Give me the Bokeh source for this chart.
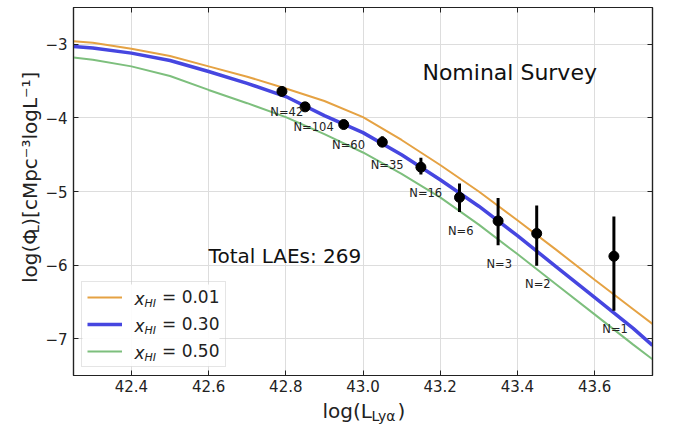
from math import pi
from bokeh.plotting import figure
from bokeh.layouts import column, row
from bokeh.models import (Range1d, LinearAxis, FixedTicker, Label, Legend, LegendItem,
                          ColumnDataSource, CustomJSTickFormatter, BoxAnnotation)
from bokeh.core.properties import value
from bokeh.embed import file_html
from bokeh.resources import INLINE

# ---------------- data ----------------
logL_model = [42.25, 42.3, 42.4, 42.5, 42.6, 42.7, 42.8, 42.9, 43.0,
              43.1, 43.2, 43.3, 43.4, 43.5, 43.6, 43.7, 43.75]
phi_xhi001 = [-2.96, -2.98, -3.06, -3.16, -3.30, -3.44, -3.60, -3.77, -3.99,
              -4.30, -4.64, -5.00, -5.39, -5.79, -6.20, -6.60, -6.80]
phi_xhi030 = [-3.03, -3.05, -3.12, -3.22, -3.37, -3.53, -3.71, -3.97, -4.20,
              -4.50, -4.84, -5.20, -5.60, -6.02, -6.44, -6.86, -7.09]
phi_xhi050 = [-3.18, -3.21, -3.30, -3.43, -3.62, -3.80, -3.99, -4.22, -4.47,
              -4.76, -5.08, -5.45, -5.85, -6.26, -6.67, -7.08, -7.28]
xhi_values = [0.01, 0.30, 0.50]

logL_obs = [42.79, 42.85, 42.95, 43.05, 43.15, 43.25, 43.35, 43.45, 43.65]
phi_obs = [-3.64, -3.85, -4.09, -4.33, -4.67, -5.08, -5.40, -5.57, -5.88]
err_lo = [0.03, 0.03, 0.03, 0.06, 0.10, 0.20, 0.33, 0.44, 0.74]
err_hi = [0.03, 0.03, 0.03, 0.08, 0.13, 0.19, 0.31, 0.38, 0.54]
n_obs = [42, 104, 60, 35, 16, 6, 3, 2, 1]

x_ticks = [42.4, 42.6, 42.8, 43.0, 43.2, 43.4, 43.6]
x_tick_labels = ["42.4", "42.6", "42.8", "43.0", "43.2", "43.4", "43.6"]
y_ticks = [-7, -6, -5, -4, -3]
y_tick_labels = ["\u22127", "\u22126", "\u22125", "\u22124", "\u22123"]

# ---------------- styles ----------------
FONT = "DejaVu Sans"
C_ORANGE = "#e5a243"
C_BLUE = "#4646e0"
C_GREEN = "#7dbf7d"
INK = "#222222"

LOOKUP = """
let best = 0;
for (let i = 0; i < tvals.length; i++) {
  if (Math.abs(tvals[i] - tick) < Math.abs(tvals[best] - tick)) { best = i; }
}
return tlabels[best];
"""

MAIN_H = 398
YLAB_W = 42
p = figure(width=673 - YLAB_W, height=MAIN_H, output_backend="svg", toolbar_location=None,
           x_range=Range1d(42.25, 43.75), y_range=Range1d(-7.5, -2.5),
           min_border_left=73 - YLAB_W, min_border_right=21, min_border_top=7,
           min_border_bottom=23)
p.outline_line_color = INK
p.outline_line_width = 1.2
p.background_fill_color = "white"
p.border_fill_color = "white"

bottom = p.below[0]
left = p.left[0]
top = LinearAxis()
right = LinearAxis()
p.add_layout(top, "above")
p.add_layout(right, "right")

for ax in [bottom, top]:
    ax.ticker = FixedTicker(ticks=x_ticks)
for ax in [left, right]:
    ax.ticker = FixedTicker(ticks=y_ticks)
bottom.formatter = CustomJSTickFormatter(args=dict(tvals=x_ticks, tlabels=x_tick_labels), code=LOOKUP)
left.formatter = CustomJSTickFormatter(args=dict(tvals=y_ticks, tlabels=y_tick_labels), code=LOOKUP)
for ax in [top, right]:
    ax.formatter = CustomJSTickFormatter(code="return ''")
    ax.major_label_text_font_size = "0px"
    ax.major_label_standoff = 0

for ax in [bottom, left, top, right]:
    ax.axis_line_color = INK
    ax.axis_line_width = 1.2
    ax.major_tick_in = 5
    ax.major_tick_out = 0
    ax.major_tick_line_color = INK
    ax.minor_tick_line_color = None
    ax.major_label_text_font = FONT
    ax.major_label_text_color = INK
bottom.major_label_text_font_size = "15px"
left.major_label_text_font_size = "15px"
bottom.major_label_standoff = 4
left.major_label_standoff = 6

p.xgrid.ticker = FixedTicker(ticks=x_ticks)
p.ygrid.ticker = FixedTicker(ticks=y_ticks)
p.grid.grid_line_color = "#dddddd"
p.grid.grid_line_width = 1

# white backing for the legend box (drawn just above the grid)
p.add_layout(BoxAnnotation(left=9, right=146, bottom=9, top=91,
                           left_units="screen", right_units="screen",
                           bottom_units="screen", top_units="screen",
                           fill_color="white", fill_alpha=0.9, line_color=None,
                           level="underlay"))

# model curves
r1 = p.line(logL_model, phi_xhi001, line_color=C_ORANGE, line_width=2)
r2 = p.line(logL_model, phi_xhi030, line_color=C_BLUE, line_width=3.5)
r3 = p.line(logL_model, phi_xhi050, line_color=C_GREEN, line_width=2)

# observed points with error bars
src = ColumnDataSource(dict(
    x=logL_obs, y=phi_obs,
    ylo=[y - e for y, e in zip(phi_obs, err_lo)],
    yhi=[y + e for y, e in zip(phi_obs, err_hi)],
    lx=[x - 0.03 for x in logL_obs],
    ly=[y - e - 0.25 for y, e in zip(phi_obs, err_lo)],
    txt=[f"N={n}" for n in n_obs],
))
p.segment(x0="x", y0="ylo", x1="x", y1="yhi", source=src, line_color="black", line_width=3)
p.scatter(x="x", y="y", source=src, size=10, fill_color="black", line_color="black")
p.text(x="lx", y="ly", text="txt", source=src, text_font=value(FONT),
       text_font_size=value("11.5px"), text_align="left", text_baseline="middle",
       text_color=INK)

# annotations inside the plot
p.add_layout(Label(x=43.38, y=-3.378, text="Nominal Survey", text_font=FONT,
                   text_font_size="22px", text_align="center",
                   text_baseline="middle", text_color="#111111"))
p.add_layout(Label(x=42.60, y=-5.878, text=f"Total LAEs: {sum(n_obs)}", text_font=FONT,
                   text_font_size="20px", text_align="left",
                   text_baseline="middle", text_color="#111111"))

# legend (transparent, the white box above is its background)
items = [LegendItem(label=value(f"= {v:.2f}"), renderers=[r])
         for v, r in zip(xhi_values, [r1, r2, r3])]
legend = Legend(items=items, location="bottom_left", margin=8, padding=5, spacing=7,
                glyph_width=35, glyph_height=20, label_height=20, label_standoff=40,
                label_text_font=FONT, label_text_font_size="17px", label_text_color=INK,
                border_line_color="#cccccc", border_line_width=1,
                background_fill_alpha=0)
p.add_layout(legend)
for row_y in [77, 50, 23]:
    p.add_layout(Label(x=61, y=row_y, x_units="screen", y_units="screen", text="x",
                       text_font=FONT, text_font_size="17px", text_font_style="italic",
                       text_align="left", text_baseline="middle", text_color=INK))
    p.add_layout(Label(x=71, y=row_y - 5, x_units="screen", y_units="screen", text="HI",
                       text_font=FONT, text_font_size="11px", text_font_style="italic",
                       text_align="left", text_baseline="middle", text_color=INK))


def text_panel(w, h):
    f = figure(width=w, height=h, output_backend="svg", toolbar_location=None,
               x_range=Range1d(0, w), y_range=Range1d(0, h), min_border=0,
               x_axis_type=None, y_axis_type=None)
    f.outline_line_color = None
    f.background_fill_color = "white"
    f.border_fill_color = "white"
    return f


# y axis title: log(Phi_L)[cMpc^-3 logL^-1]
ylab = text_panel(YLAB_W, MAIN_H)
ylab.add_layout(Label(x=29, y=100, text="log(\u03a6", angle=pi / 2, text_font=FONT,
                      text_font_size="20px", text_align="left", text_baseline="middle",
                      text_color=INK))
ylab.add_layout(Label(x=33, y=154, text="L", angle=pi / 2, text_font=FONT,
                      text_font_size="14px", text_align="left", text_baseline="middle",
                      text_color=INK))
ylab.add_layout(Label(x=29, y=162, text=")[cMpc\u207b\u00b3logL\u207b\u00b9]", angle=pi / 2,
                      text_font=FONT, text_font_size="20px", text_align="left",
                      text_baseline="middle", text_color=INK))

# x axis title: log(L_Lya)
XLAB_H = 426 - MAIN_H
xlab = text_panel(673, XLAB_H)
xlab.add_layout(Label(x=322, y=16, text="log(L", text_font=FONT, text_font_size="20px",
                      text_align="left", text_baseline="middle", text_color=INK))
xlab.add_layout(Label(x=371, y=11, text="Ly\u03b1", text_font=FONT, text_font_size="14px",
                      text_align="left", text_baseline="middle", text_color=INK))
xlab.add_layout(Label(x=397, y=16, text=")", text_font=FONT, text_font_size="20px",
                      text_align="left", text_baseline="middle", text_color=INK))

layout = column(row(ylab, p), xlab)
open("out.html", "w").write(file_html(layout, INLINE))
